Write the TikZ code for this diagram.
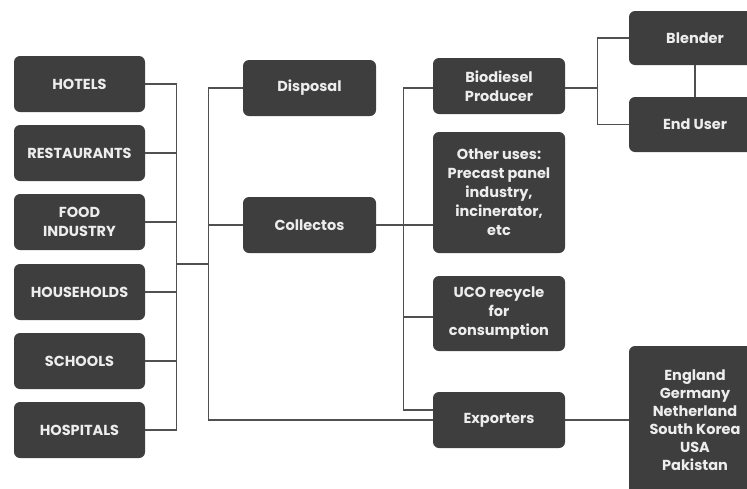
\documentclass[tikz,border=0pt]{standalone}
\usepackage{fontspec}
\setmainfont{Poppins}
\begin{document}
\begin{tikzpicture}[x=1pt,y=-1pt,
  box/.style={draw=none,fill=boxgray,rounded corners=6pt,text=white!93!black,
    font=\bfseries\fontsize{14.5}{19}\selectfont,align=center,inner sep=0pt,
    minimum width=#1},
  box/.default=132pt,
  conn/.style={draw=linegray,line width=1.2pt}]
\definecolor{boxgray}{HTML}{3E3E3E}
\definecolor{linegray}{HTML}{505050}
\useasboundingbox (0,0) rectangle (747,488);
% left column
\node[box=131pt,minimum height=56pt] (hot) at (79.5,84) {HOTELS};
\node[box=131pt,minimum height=56pt] (res) at (79.5,153) {RESTAURANTS};
\node[box=131pt,minimum height=56pt] (food) at (79.5,222) {FOOD\\INDUSTRY};
\node[box=131pt,minimum height=56pt] (hou) at (79.5,292) {HOUSEHOLDS};
\node[box=131pt,minimum height=56pt] (sch) at (79.5,361) {SCHOOLS};
\node[box=131pt,minimum height=56pt] (hos) at (79.5,430) {HOSPITALS};
% middle
\node[box=133pt,minimum height=56pt] (disp) at (309.5,88) {Disposal};
\node[box=133pt,minimum height=56pt] (coll) at (309.5,225) {Collectos};
% right column
\node[box,minimum height=56pt] (bio) at (499,86) {Biodiesel\\Producer};
\node[box,minimum height=121pt] (oth) at (499,192.5) {Other uses:\\Precast panel\\industry,\\incinerator,\\etc};
\node[box,minimum height=75pt] (uco) at (499,313.5) {UCO recycle\\for\\consumption};
\node[box,minimum height=56pt] (exp) at (499,420) {Exporters};
% far right
\node[box,minimum height=54pt] (bl) at (695,38) {Blender};
\node[box,minimum height=55pt] (eu) at (695,124.5) {End User};
\node[box,minimum height=148pt,font=\bfseries\fontsize{14.5}{18}\selectfont] (cty) at (695,420) {England\\Germany\\Netherland\\South Korea\\USA\\Pakistan};
% connectors left bus
\coordinate (busA) at (176,264);
\coordinate (busB) at (209,264);
\draw[conn] (hot.east) -- ++(31,0) |- (hos.east);
\draw[conn] (res.east) -- ++(31,0);
\draw[conn] (food.east) -- ++(31,0);
\draw[conn] (hou.east) -- ++(31,0);
\draw[conn] (sch.east) -- ++(31,0);
\draw[conn] (busA) -- (busB);
\draw[conn] (disp.west) -- ++(-34,0) |- (exp.west);
\draw[conn] (coll.west) -- ++(-34,0);
% right bus
\draw[conn] (coll.east) -- (coll.east -| oth.west);
\draw[conn] ([yshift=-2pt]bio.west) -- ++(-29,0) |- ([yshift=10pt]exp.west);
\draw[conn] ([yshift=-3.5pt]uco.west) -- ++(-29,0);
\draw[conn] (exp.east) -- (cty.west);
\draw[conn] ([yshift=-2pt]bio.east) -- ++(32,0) coordinate (bj) |- (bl.west);
\draw[conn] (bj) |- (eu.west);
\draw[conn] (bl.south) -- (eu.north);
\end{tikzpicture}
\end{document}
